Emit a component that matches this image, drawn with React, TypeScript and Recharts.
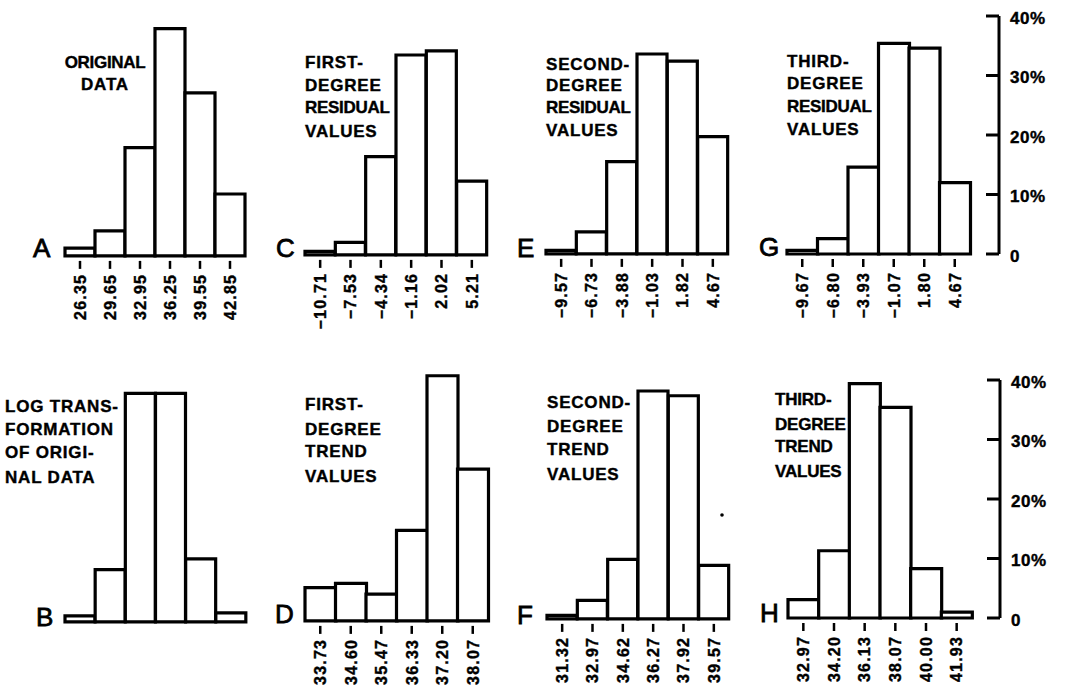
import { BarChart, Bar, XAxis, YAxis } from 'recharts';

// bin midpoints (tick labels) and percentage of cases in each bin
const aBins = ['26.35', '29.65', '32.95', '36.25', '39.55', '42.85'];
const aPct = [1.3, 4.2, 18.2, 38.2, 27.4, 10.4];
const bPct = [1.0, 8.8, 38.4, 38.4, 10.6, 1.5];
const cBins = ['−10.71', '−7.53', '−4.34', '−1.16', '2.02', '5.21'];
const cPct = [0.6, 2.1, 16.5, 33.6, 34.3, 12.4];
const dBins = ['33.73', '34.60', '35.47', '36.33', '37.20', '38.07'];
const dPct = [5.6, 6.3, 4.5, 15.2, 41.2, 25.5];
const eBins = ['−9.57', '−6.73', '−3.88', '−1.03', '1.82', '4.67'];
const ePct = [0.6, 3.7, 15.5, 33.6, 32.4, 19.7];
const fBins = ['31.32', '32.97', '34.62', '36.27', '37.92', '39.57'];
const fPct = [0.6, 3.1, 10.0, 38.3, 37.5, 9.0];
const gBins = ['−9.67', '−6.80', '−3.93', '−1.07', '1.80', '4.67'];
const gPct = [0.6, 2.6, 14.6, 35.4, 34.6, 12.0];
const hBins = ['32.97', '34.20', '36.13', '38.07', '40.00', '41.93'];
const hPct = [3.1, 11.3, 39.4, 35.4, 8.3, 1.0];
const pctTicks = [0, 10, 20, 30, 40];

const FONT = '"Liberation Sans", Arial, sans-serif';
const PX = 5.95; // pixels per percent
const M = 12;

function BinTick({ x, y, payload }: any) {
  return (
    <g transform={`translate(${x},${y})`}>
      <line x1={0} x2={0} y1={5} y2={13} stroke="#000" strokeWidth={2.5} />
      <text
        transform="rotate(-90)"
        x={-18}
        y={0}
        dy="0.36em"
        textAnchor="end"
        fontFamily={FONT}
        fontWeight="bold"
        fontSize={16}
        letterSpacing={1.2}
        fill="#000"
        stroke="#000"
        strokeWidth={0.4}
      >
        {payload.value}
      </text>
    </g>
  );
}

function PctTick({ x, y, payload }: any) {
  return (
    <g>
      <line x1={x - 13} x2={x} y1={y} y2={y} stroke="#000" strokeWidth={3} />
      <text
        x={x + 11}
        y={y}
        dy="0.45em"
        fontFamily={FONT}
        fontWeight="bold"
        fontSize={17}
        letterSpacing={0.5}
        fill="#000"
        stroke="#000"
        strokeWidth={0.4}
      >
        {payload.value === 0 ? '0' : `${payload.value}%`}
      </text>
    </g>
  );
}

interface PanelProps {
  bins?: string[];
  pct: number[];
  left: number;
  width: number;
  base: number;
  axisAt?: number;
}

function Panel({ bins, pct, left, width, base, axisAt }: PanelProps) {
  const data = pct.map((v, i) => ({ bin: bins ? bins[i] : String(i), v }));
  const top = axisAt ? 40 : 42;
  const plotH = top * PX;
  const pad = axisAt ? axisAt - (left + width) : 0;
  const axisW = axisAt ? 70 : 0;
  return (
    <div style={{ position: 'absolute', left: left - 4, top: base - plotH - M }}>
      <BarChart
        width={width + pad + axisW + 8}
        height={plotH + M + 75}
        data={data}
        margin={{ top: M, right: 4, bottom: 0, left: 4 }}
        barCategoryGap={0}
        barGap={0}
      >
        <XAxis
          dataKey="bin"
          height={75}
          axisLine={false}
          tickLine={false}
          tickSize={0}
          tickMargin={0}
          interval={0}
          padding={{ left: 0, right: pad }}
          tick={bins ? (props: any) => <BinTick {...props} /> : false}
        />
        <YAxis
          hide={!axisAt}
          orientation="right"
          width={axisW || 60}
          domain={[0, top]}
          ticks={pctTicks}
          axisLine={{ stroke: '#000', strokeWidth: 3 }}
          tickLine={false}
          tickSize={0}
          tickMargin={0}
          tick={(props: any) => <PctTick {...props} />}
        />
        <Bar dataKey="v" fill="#fff" stroke="#000" strokeWidth={3.2} isAnimationActive={false} />
      </BarChart>
    </div>
  );
}

const titles = [
  { x: 105, anchor: 'middle', ls: 0.8, lines: ['ORIGINAL', 'DATA'], ys: [68, 90] },
  { x: 305, anchor: 'start', ls: 0.8, lines: ['FIRST-', 'DEGREE', 'RESIDUAL', 'VALUES'], ys: [68, 91, 113, 137] },
  { x: 546, anchor: 'start', ls: 0.8, lines: ['SECOND-', 'DEGREE', 'RESIDUAL', 'VALUES'], ys: [70, 91, 113, 136] },
  { x: 787, anchor: 'start', ls: 0.8, lines: ['THIRD-', 'DEGREE', 'RESIDUAL', 'VALUES'], ys: [67, 89, 112, 135] },
  { x: 5, anchor: 'start', ls: 0.8, lines: ['LOG TRANS-', 'FORMATION', 'OF ORIGI-', 'NAL DATA'], ys: [412, 435, 458, 483] },
  { x: 305, anchor: 'start', ls: 0.8, lines: ['FIRST-', 'DEGREE', 'TREND', 'VALUES'], ys: [410, 435, 457, 482] },
  { x: 547, anchor: 'start', ls: 0.8, lines: ['SECOND-', 'DEGREE', 'TREND', 'VALUES'], ys: [408, 432, 455, 480] },
  { x: 775, anchor: 'start', ls: -0.2, lines: ['THIRD-', 'DEGREE', 'TREND', 'VALUES'], ys: [405, 430, 452, 477] },
];

const letters = [
  { t: 'A', x: 33, y: 257 },
  { t: 'C', x: 276, y: 257 },
  { t: 'E', x: 517, y: 257 },
  { t: 'G', x: 759, y: 256 },
  { t: 'B', x: 36, y: 626 },
  { t: 'D', x: 275, y: 623 },
  { t: 'F', x: 517, y: 624 },
  { t: 'H', x: 760, y: 622 },
];

export default function App() {
  return (
    <div style={{ position: 'absolute', left: 0, top: 0, width: 1067, height: 693, background: '#fff', overflow: 'hidden' }}>
      <Panel bins={aBins} pct={aPct} left={65} width={180} base={256} />
      <Panel bins={cBins} pct={cPct} left={305} width={182} base={255} />
      <Panel bins={eBins} pct={ePct} left={546} width={182} base={254} />
      <Panel bins={gBins} pct={gPct} left={787} width={183} base={254} axisAt={999} />
      <Panel pct={bPct} left={65} width={181} base={622} />
      <Panel bins={dBins} pct={dPct} left={305} width={183} base={621} />
      <Panel bins={fBins} pct={fPct} left={547} width={182} base={619} />
      <Panel bins={hBins} pct={hPct} left={788} width={184} base={618} axisAt={1000} />
      <svg width={1067} height={693} style={{ position: 'absolute', left: 0, top: 0, pointerEvents: 'none' }}>
        {titles.map((t, i) => (
          <text
            key={i}
            x={t.x}
            textAnchor={t.anchor as any}
            fontFamily={FONT}
            fontWeight="bold"
            fontSize={17}
            fill="#000"
            stroke="#000"
            strokeWidth={0.4}
          >
            {t.lines.map((l, j) => (
              <tspan key={j} x={t.x} y={t.ys[j]} letterSpacing={l === 'RESIDUAL' || l === 'ORIGINAL' ? -0.3 : t.ls}>
                {l}
              </tspan>
            ))}
          </text>
        ))}
        {letters.map((l) => (
          <text key={l.t} x={l.x} y={l.y} fontFamily={FONT} fontSize={26} fill="#000" stroke="#000" strokeWidth={0.8}>
            {l.t}
          </text>
        ))}
        <circle cx={722} cy={515} r={1.8} fill="#000" />
      </svg>
    </div>
  );
}
